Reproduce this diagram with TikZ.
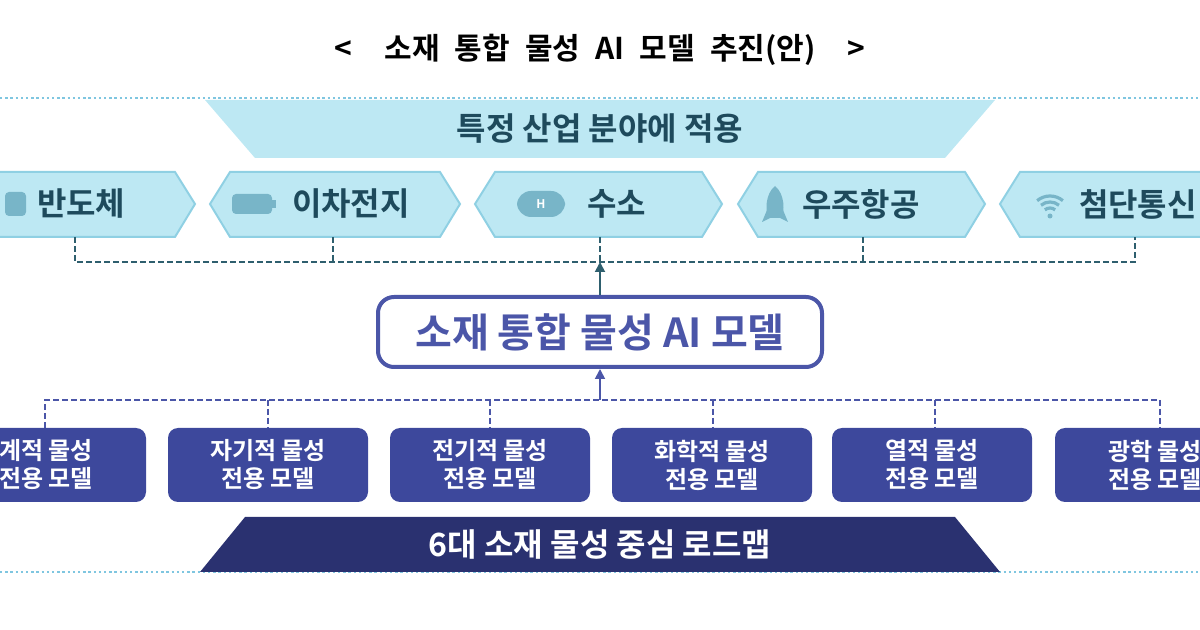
\documentclass[tikz,border=0pt]{standalone}
\usepackage{fontspec}
\setmainfont{Noto Sans CJK KR}[BoldFont={* Bold}]
\newfontfamily\kb{Noto Sans CJK KR Bold}
\usetikzlibrary{arrows.meta}
\definecolor{lb}{HTML}{BDE8F3}
\definecolor{lbb}{HTML}{8FD0E3}
\definecolor{tealc}{HTML}{1E4A5C}
\definecolor{navy}{HTML}{3D489C}
\definecolor{dnavy}{HTML}{2A3170}
\definecolor{dotc}{HTML}{7FC6E0}
\definecolor{dashc}{HTML}{2E5F6E}
\definecolor{dashb}{HTML}{4B56A8}
\tikzset{
  hexbox/.style={fill=lb,draw=lbb,line width=1pt},
  hextext/.style={text=tealc,font=\kb\fontsize{16}{18}\selectfont,anchor=west},
  matbox/.style={fill=navy,rounded corners=5pt,minimum width=100pt,minimum height=37pt,text=white,align=center,font=\kb\fontsize{12}{14}\selectfont},
  dl/.style={dash pattern=on 3pt off 1.5pt,line width=0.9pt},
  dotline/.style={dotc,line width=1.2pt,dash pattern=on 1.2pt off 1.4pt},
  icon/.style={fill=lbb!80!tealc,draw=none}
}
\begin{document}
\begin{tikzpicture}[x=0.5pt,y=-0.5pt]
\useasboundingbox (0,0) rectangle (1200,630);
\node[font=\kb\fontsize{15}{17}\selectfont,text=black] (title) at (600,50) {<\;\;\; 소재\; 통합\; 물성\; AI\; 모델\; 추진(안)\;\;\; >};
\draw[dotline] (0,98) -- (1200,98);
\draw[dotline] (0,572) -- (1200,572);
% top banner
\fill[lb] (205,100) -- (995,100) -- (945,158) -- (255,158) -- cycle;
\node[font=\kb\fontsize{16}{18}\selectfont,text=tealc] (ban) at (600,129) {특정 산업 분야에 적용};
% hex boxes
\foreach \a/\b/\n in {-30/195/h1,210/460/h2,475/722/h3,738/985/h4,1000/1245/h5}{
  \draw[hexbox] (\a,204) -- (\a+20,172) -- (\b-20,172) -- (\b,204) -- (\b-20,237) -- (\a+20,237) -- cycle;
  \coordinate (\n) at ({(\a+\b)/2},237);
}
\node[hextext] (t1) at (30,204) {반도체};
\node[hextext] (t2) at (285,204) {이차전지};
\node[hextext] (t3) at (580,204) {수소};
\node[hextext] (t4) at (795,204) {우주항공};
\node[hextext] (t5) at (1072,204) {첨단통신};
% icons
\fill[icon,rounded corners=2pt] (5,192) rectangle (26,216);
\fill[icon,rounded corners=2pt] (232,194) rectangle (272,214);
\fill[icon] (272,200) rectangle (276,208);
\fill[icon,rounded corners=7pt] (517,191) rectangle (565,217);
\node[text=white,font=\kb\fontsize{6}{7}\selectfont] at (541,204) {H};
\fill[icon] (775,186) .. controls (785,194) and (785,212) .. (781,218) -- (769,218) .. controls (765,212) and (765,194) .. (775,186) -- cycle;
\fill[icon] (767,210) -- (762,222) -- (770,218) -- cycle;
\fill[icon] (783,210) -- (788,222) -- (780,218) -- cycle;
\fill[icon] (1050,216) circle (2.5);
\foreach \r in {8,14,20}{\draw[lbb!80!tealc,line width=1.6pt] (1050,216) ++(-130:\r) arc (-130:-50:\r);}
% upper connector
\coordinate (jt) at (600,262);
\draw[dashc,dl] (75,237) -- (75,262) -- (1135,262) -- (1135,237);
\foreach \x in {333,600,863}{\draw[dashc,dl] (\x,237) -- (\x,262);}
% center model
\node[draw=dashb,line width=2pt,rounded corners=8pt,minimum width=222pt,minimum height=35pt,text=dashb,font=\kb\fontsize{20}{22}\selectfont] (ai) at (600,332) {소재 통합 물성 AI 모델};
\draw[dashc,line width=0.9pt,-{Triangle[length=5pt,width=5pt]}] (ai.north) -- (jt);
% lower connector
\coordinate (jb) at (600,400);
\draw[dashb,line width=0.9pt,-{Triangle[length=5pt,width=5pt]}] (jb) -- (ai.south);
\draw[dashb,dl] (45,428) -- (45,400) -- (1160,400) -- (1160,428);
\foreach \x in {268,490,713,935}{\draw[dashb,dl] (\x,400) -- (\x,428);}
% material boxes
\node[matbox] (m1) at (46,465) {계적 물성\\전용 모델};
\node[matbox] (m2) at (268,465) {자기적 물성\\전용 모델};
\node[matbox] (m3) at (490,465) {전기적 물성\\전용 모델};
\node[matbox] (m4) at (712,465) {화학적 물성\\전용 모델};
\node[matbox] (m5) at (932,465) {열적 물성\\전용 모델};
\node[matbox] (m6) at (1155,465) {광학 물성\\전용 모델};
% bottom banner
\fill[dnavy] (245,517) -- (955,517) -- (1000,572) -- (200,572) -- cycle;
\node[font=\kb\fontsize{16}{18}\selectfont,text=white] (bb) at (600,545) {6대 소재 물성 중심 로드맵};
\end{tikzpicture}
\end{document}
